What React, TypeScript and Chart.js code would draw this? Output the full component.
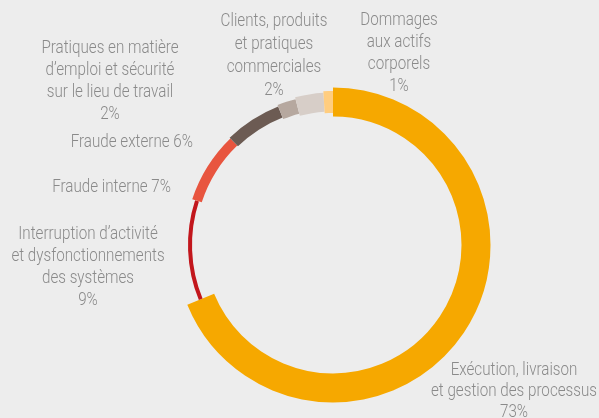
import React, { useEffect, useRef } from "react";
import { Chart, registerables } from "chart.js";
Chart.register(...registerables);

// ---- data ----
const categories = [
  "Exécution, livraison et gestion des processus",
  "Interruption d’activité et dysfonctionnements des systèmes",
  "Fraude interne",
  "Fraude externe",
  "Pratiques en matière d’emploi et sécurité sur le lieu de travail",
  "Clients, produits et pratiques commerciales",
  "Dommages aux actifs corporels",
];
// arc sizes as drawn in the picture (share of the ring, %)
const arcValues = [68.8, 11.2, 7.8, 6.2, 2.0, 3.0, 1.0];
// printed percentages
const percentLabels = ["73%", "9%", "7%", "6%", "2%", "2%", "1%"];
const labelLines = [
  ["Exécution, livraison", "et gestion des processus"],
  ["Interruption d’activité", "et dysfonctionnements", "des systèmes"],
  ["Fraude interne"],
  ["Fraude externe"],
  ["Pratiques en matière", "d’emploi et sécurité", "sur le lieu de travail"],
  ["Clients, produits", "et pratiques", "commerciales"],
  ["Dommages", "aux actifs", "corporels"],
];

// ---- styles ----
const colors = ["#F6A800", "#C2161C", "#E8553F", "#6C5B53", "#B6A89F", "#D7CEC8", "#FFCD7F"];
const thickness = [29, 4, 10, 12, 15, 19, 22];
const MID_RADIUS = 143;
const FONT = "300 18px Roboto, 'Noto Sans', sans-serif";
const TEXT_COLOR = "#8A8A8A";
const REF_TEXT = "et gestion des processus";
const REF_WIDTH = 166;
// label placement: x, y of first line, alignment, inline percent
const labelPos = [
  { x: 514, y: 370, align: "center", inline: false, lh: 21 },
  { x: 88, y: 234, align: "center", inline: false, lh: 22 },
  { x: 171, y: 187, align: "right", inline: true, lh: 22 },
  { x: 193, y: 142, align: "right", inline: true, lh: 22 },
  { x: 110, y: 48, align: "center", inline: false, lh: 22.3 },
  { x: 274, y: 21, align: "center", inline: false, lh: 23 },
  { x: 399, y: 20, align: "center", inline: false, lh: 22 },
];

const ringPlugin = {
  id: "ringThickness",
  beforeDatasetsDraw(chart: any) {
    const meta = chart.getDatasetMeta(0);
    meta.data.forEach((el: any, i: number) => {
      el.innerRadius = MID_RADIUS - thickness[i] / 2;
      el.outerRadius = MID_RADIUS + thickness[i] / 2;
    });
  },
};

const labelPlugin = {
  id: "sideLabels",
  afterDraw(chart: any) {
    const ctx = chart.ctx;
    ctx.save();
    ctx.font = FONT;
    ctx.fillStyle = TEXT_COLOR;
    ctx.textBaseline = "middle";
    const sx = REF_WIDTH / ctx.measureText(REF_TEXT).width;
    labelLines.forEach((lines, i) => {
      const p = labelPos[i];
      const all = p.inline
        ? [lines.join(" ") + " " + percentLabels[i]]
        : [...lines, percentLabels[i]];
      ctx.textAlign = p.align;
      all.forEach((t, k) => {
        ctx.save();
        ctx.translate(p.x, p.y + k * p.lh);
        ctx.scale(sx, 1);
        ctx.fillText(t, 0, 0);
        ctx.restore();
      });
    });
    ctx.restore();
  },
};

export default function App() {
  const ref = useRef<HTMLCanvasElement | null>(null);
  useEffect(() => {
    document.body.style.margin = "0";
    const chart = new Chart(ref.current as HTMLCanvasElement, {
      type: "doughnut",
      data: {
        labels: categories,
        datasets: [
          {
            data: arcValues,
            backgroundColor: colors,
            borderWidth: 0,
          },
        ],
      },
      options: {
        responsive: false,
        animation: false,
        layout: { padding: { left: 67, right: 0, top: 72, bottom: 0 } },
        plugins: { legend: { display: false }, tooltip: { enabled: false } },
      },
      plugins: [ringPlugin, labelPlugin],
    });
    return () => chart.destroy();
  }, []);
  return (
    <div style={{ width: 599, height: 418, background: "#EDEDED" }}>
      <canvas ref={ref} width={599} height={418} />
    </div>
  );
}
